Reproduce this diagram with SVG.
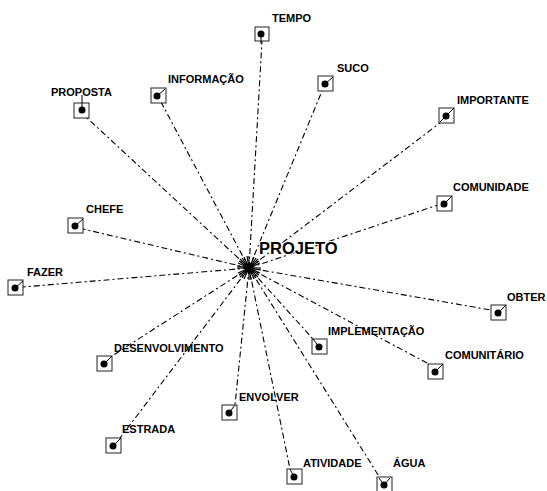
<svg xmlns="http://www.w3.org/2000/svg" width="547" height="491" viewBox="0 0 547 491">
<style>
.c{stroke:#000;stroke-width:1.1;stroke-dasharray:6 3 2 3;fill:none}
.b{fill:#fff;stroke:#222;stroke-width:1}
.n{stroke:#000;stroke-width:1}
.l{font-family:"Liberation Sans",Arial,sans-serif;font-weight:bold;font-size:11px;fill:#000}
.h{stroke:#000;stroke-width:1.2}
</style>
<rect width="547" height="491" fill="#fff"/>
<g id="connectors">
<line class="c" x1="249" y1="268" x2="262" y2="41"/>
<line class="c" x1="249" y1="268" x2="86" y2="117"/>
<line class="c" x1="249" y1="268" x2="161" y2="102"/>
<line class="c" x1="249" y1="268" x2="322" y2="91"/>
<line class="c" x1="249" y1="268" x2="440" y2="123"/>
<line class="c" x1="249" y1="268" x2="83" y2="229"/>
<line class="c" x1="249" y1="268" x2="23" y2="287"/>
<line class="c" x1="249" y1="268" x2="438" y2="205"/>
<line class="c" x1="249" y1="268" x2="491" y2="310"/>
<line class="c" x1="249" y1="268" x2="313" y2="339"/>
<line class="c" x1="249" y1="268" x2="429" y2="364"/>
<line class="c" x1="249" y1="268" x2="112" y2="356"/>
<line class="c" x1="249" y1="268" x2="120" y2="438"/>
<line class="c" x1="249" y1="268" x2="235" y2="405"/>
<line class="c" x1="249" y1="268" x2="290" y2="469"/>
<line class="c" x1="249" y1="268" x2="380" y2="478"/>
</g>
<g id="hub">
<g transform="translate(249,268)">
<line class="h" x1="-12" y1="0" x2="12" y2="0"/>
<line class="h" x1="0" y1="-12" x2="0" y2="12"/>
<line class="h" x1="-9" y1="-9" x2="9" y2="9"/>
<line class="h" x1="-9" y1="9" x2="9" y2="-9"/>
<line class="h" x1="-11" y1="-5" x2="11" y2="5"/>
<line class="h" x1="-11" y1="5" x2="11" y2="-5"/>
<line class="h" x1="-5" y1="-11" x2="5" y2="11"/>
<line class="h" x1="-5" y1="11" x2="5" y2="-11"/>
<line class="h" x1="-12" y1="-2" x2="12" y2="2"/>
<line class="h" x1="-2" y1="-12" x2="2" y2="12"/>
<line class="h" x1="-7" y1="-10" x2="7" y2="10"/>
<line class="h" x1="-10" y1="7" x2="10" y2="-7"/>
<line class="h" x1="-10" y1="-7" x2="10" y2="7"/>
<line class="h" x1="-7" y1="10" x2="7" y2="-10"/>
<circle cx="0" cy="0" r="4.5" fill="#000"/>
</g>
<text x="259" y="254" font-family="'Liberation Sans',Arial,sans-serif" font-weight="bold" font-size="16.5" fill="#000" stroke="#fff" stroke-width="2" paint-order="stroke">PROJETO</text>
</g>
<g id="n-tempo"><rect class="b" x="255" y="27" width="14" height="14"/><line class="n" x1="261" y1="34" x2="261" y2="44"/><circle cx="261" cy="34" r="3.5"/><text class="l" x="272" y="22">TEMPO</text></g>
<g id="n-proposta"><rect class="b" x="74" y="103" width="15" height="15"/><line class="n" x1="82" y1="110" x2="82" y2="95"/><circle cx="82" cy="110" r="3.5"/><text class="l" x="51" y="96">PROPOSTA</text></g>
<g id="n-informacao"><rect class="b" x="151" y="88" width="15" height="15"/><line class="n" x1="157" y1="96" x2="165" y2="89"/><circle cx="157" cy="96" r="3.5"/><text class="l" x="168" y="83">INFORMAÇÃO</text></g>
<g id="n-suco"><rect class="b" x="318" y="76" width="15" height="15"/><line class="n" x1="325" y1="84" x2="333" y2="77"/><circle cx="325" cy="84" r="3.5"/><text class="l" x="337" y="72">SUCO</text></g>
<g id="n-importante"><rect class="b" x="439" y="108" width="15" height="15"/><line class="n" x1="440" y1="122" x2="454" y2="108"/><circle cx="446" cy="116" r="3.5"/><text class="l" x="457" y="104">IMPORTANTE</text></g>
<g id="n-chefe"><rect class="b" x="68" y="218" width="15" height="15"/><line class="n" x1="75" y1="226" x2="83" y2="219"/><circle cx="75" cy="226" r="3.5"/><text class="l" x="86" y="213">CHEFE</text></g>
<g id="n-fazer"><rect class="b" x="8" y="280" width="15" height="15"/><line class="n" x1="15" y1="288" x2="23" y2="281"/><circle cx="15" cy="288" r="3.5"/><text class="l" x="27" y="276">FAZER</text></g>
<g id="n-comunidade"><rect class="b" x="437" y="196" width="15" height="15"/><line class="n" x1="444" y1="204" x2="452" y2="196"/><circle cx="444" cy="204" r="3.5"/><text class="l" x="453" y="191">COMUNIDADE</text></g>
<g id="n-obter"><rect class="b" x="491" y="305" width="15" height="15"/><line class="n" x1="498" y1="313" x2="506" y2="305"/><circle cx="498" cy="313" r="3.5"/><text class="l" x="507" y="301">OBTER</text></g>
<g id="n-implementacao"><rect class="b" x="312" y="339" width="15" height="15"/><line class="n" x1="319" y1="347" x2="313" y2="339"/><circle cx="319" cy="347" r="3.5"/><text class="l" x="328" y="335">IMPLEMENTAÇÃO</text></g>
<g id="n-comunitario"><rect class="b" x="428" y="364" width="15" height="15"/><line class="n" x1="435" y1="372" x2="443" y2="364"/><circle cx="435" cy="372" r="3.5"/><text class="l" x="445" y="359">COMUNITÁRIO</text></g>
<g id="n-desenvolvimento"><rect class="b" x="97" y="356" width="15" height="15"/><line class="n" x1="104" y1="364" x2="112" y2="356"/><circle cx="104" cy="364" r="3.5"/><text class="l" x="114" y="352">DESENVOLVIMENTO</text></g>
<g id="n-estrada"><rect class="b" x="106" y="438" width="15" height="15"/><line class="n" x1="113" y1="446" x2="121" y2="438"/><circle cx="113" cy="446" r="3.5"/><text class="l" x="122" y="433">ESTRADA</text></g>
<g id="n-envolver"><rect class="b" x="222" y="405" width="15" height="15"/><line class="n" x1="229" y1="413" x2="235" y2="405"/><circle cx="229" cy="413" r="3.5"/><text class="l" x="239" y="401">ENVOLVER</text></g>
<g id="n-atividade"><rect class="b" x="287" y="469" width="15" height="15"/><line class="n" x1="294" y1="477" x2="290" y2="469"/><circle cx="294" cy="477" r="3.5"/><text class="l" x="303" y="467">ATIVIDADE</text></g>
<g id="n-agua"><rect class="b" x="377" y="477" width="15" height="15"/><line class="n" x1="384" y1="485" x2="379" y2="478"/><line class="n" x1="384" y1="485" x2="390" y2="478"/><circle cx="384" cy="485" r="3.5"/><text class="l" x="393" y="467">ÁGUA</text></g>
</svg>
